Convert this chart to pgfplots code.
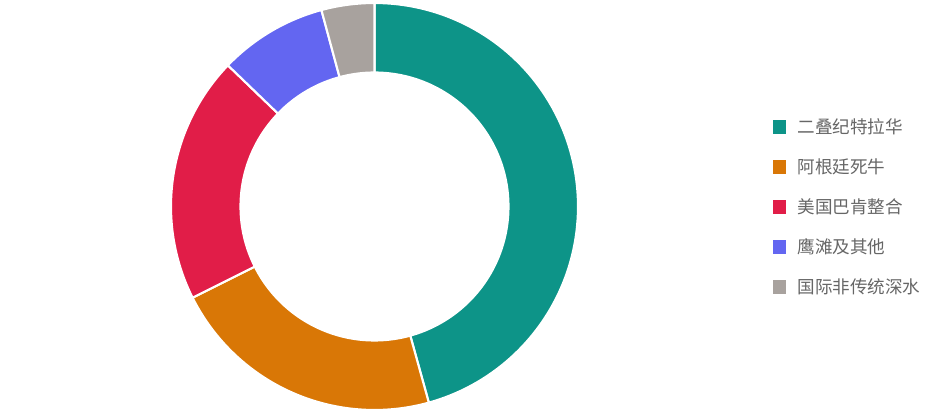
\documentclass[border=0pt]{standalone}
\usepackage{pgfplots}
\pgfplotsset{compat=1.18}
\usepackage{fontspec}
\setmainfont{Noto Sans CJK SC}
\definecolor{cteal}{HTML}{0D9488}
\definecolor{corange}{HTML}{D97706}
\definecolor{cred}{HTML}{E11D48}
\definecolor{cpurple}{HTML}{6366F1}
\definecolor{cgray}{HTML}{A8A29E}
\definecolor{textgray}{HTML}{666666}
% slice: colour, cumulative share before (%), share (%)
\newcommand{\slice}[3]{%
  \addplot[forget plot, fill=#1, draw=white, line width=1.2pt, line join=round,
    variable=\t, samples at={0,1,...,100,100.01,101,102,...,200,200.01}]
    ({3.745+rr(\t)*cos(th(\t,#2,#3))},{2.075+rr(\t)*sin(th(\t,#2,#3))});}
\begin{document}
\begin{tikzpicture}
\begin{axis}[
  x=2cm, y=2cm, xmin=0, xmax=9.36, ymin=0, ymax=4.14,
  hide axis, clip=false,
  declare function={
    rr(\t)=((\t<=100)+(\t>200))*2.035+(\t>100)*(\t<=200)*1.34;
    th(\t,\s,\v)=90-3.6*((\t<=100)*(\s+\v*\t/100)+(\t>100)*(\t<=200)*(\s+\v*(200-\t)/100)+(\t>200)*\s);
  },
  legend image code/.code={\path[#1] (0cm,-0.005cm) rectangle (0.27cm,0.265cm);},
  legend style={at={(axis cs:7.725,2.955)}, anchor=north west, draw=none, fill=none,
    inner sep=0pt, outer sep=0pt, row sep=0.45cm, column sep=0.23cm,
    nodes={inner sep=0pt, outer sep=0pt, text height=0.3cm, text depth=0.05cm,
      font=\fontsize{10}{12}\selectfont, text=textgray},
    cells={anchor=base west}},
]
\path (axis cs:0,0) rectangle (axis cs:9.36,4.14);
\slice{cteal}{0}{45.7}
\slice{corange}{45.7}{21.9}
\slice{cred}{67.6}{19.6}
\slice{cpurple}{87.2}{8.6}
\slice{cgray}{95.8}{4.2}
\addlegendimage{fill=cteal, draw=none}
\addlegendentry{二叠纪特拉华}
\addlegendimage{fill=corange, draw=none}
\addlegendentry{阿根廷死牛}
\addlegendimage{fill=cred, draw=none}
\addlegendentry{美国巴肯整合}
\addlegendimage{fill=cpurple, draw=none}
\addlegendentry{鹰滩及其他}
\addlegendimage{fill=cgray, draw=none}
\addlegendentry{国际非传统深水}
\end{axis}
\end{tikzpicture}
\end{document}
